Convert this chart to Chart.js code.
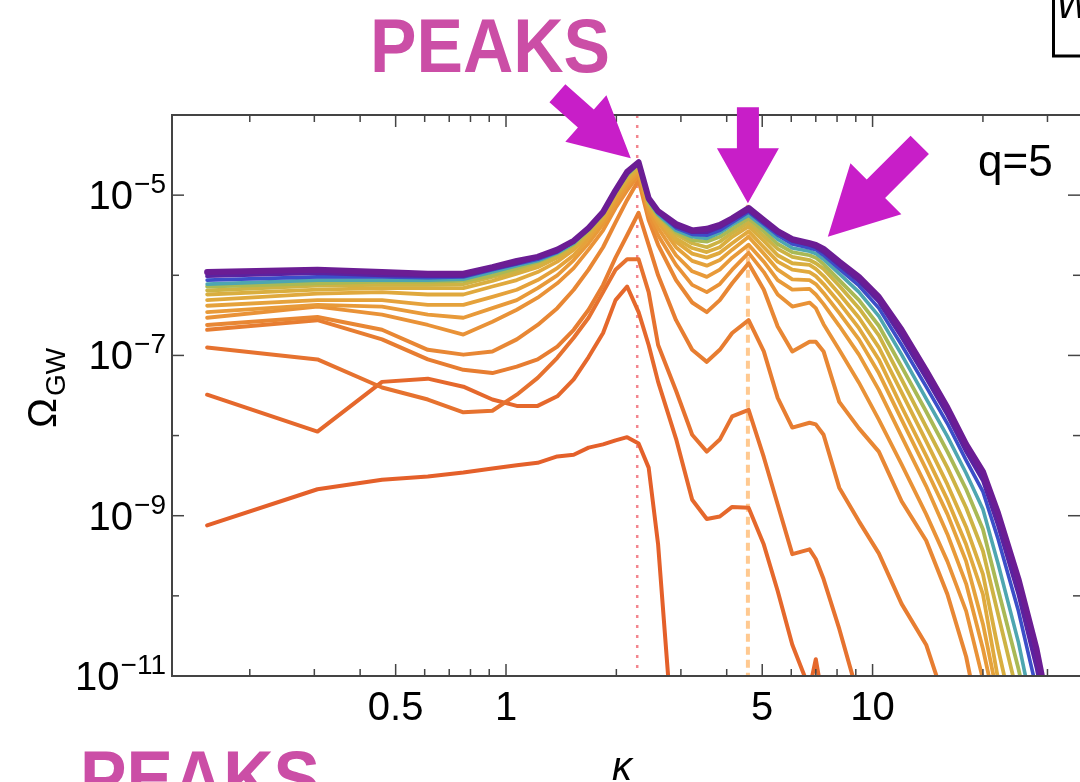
<!DOCTYPE html>
<html>
<head>
<meta charset="utf-8">
<script src="https://cdn.jsdelivr.net/npm/chart.js@4.4.1/dist/chart.umd.min.js"></script>
<style>
  html, body { margin: 0; padding: 0; background: #fff; overflow: hidden; }
  #chart { display: block; }
</style>
</head>
<body>
<canvas id="chart" width="1080" height="782"></canvas>
<script>
// kappa grid shared by every spectrum
const kappa = [0.153, 0.306, 0.459, 0.612, 0.765, 0.918, 1.07, 1.22, 1.38, 1.53,
  1.68, 1.84, 1.99, 2.14, 2.30, 2.45, 2.60, 2.91, 3.22, 3.53,
  3.83, 4.14, 4.59, 5.05, 5.51, 6.04, 6.73, 7.00, 7.35, 8.11,
  9.18, 10.4, 12.0, 14.0, 16.0, 18.0, 20.0, 22.0, 25.0, 28.0, 30.0];

// log10(Omega_GW) for each snapshot, earliest first
const specA = [-9.12,-8.67,-8.55,-8.51,-8.46,-8.41,-8.37,-8.34,-8.26,-8.24,
  -8.15,-8.11,-8.06,-8.02,-8.10,-8.40,-9.36,-12.3];
const specB = [-7.49,-7.95,-7.33,-7.29,-7.39,-7.55,-7.63,-7.63,-7.51,-7.30,
  -7.02,-6.72,-6.31,-6.14,-6.46,-6.87,-7.33,-8.04,-8.80,-9.04,
  -9.01,-8.89,-8.90,-9.36,-9.94,-10.61,-11.16,-10.79,-11.35,-12.5];
const specC = [-6.90,-7.05,-7.40,-7.55,-7.71,-7.69,-7.49,-7.28,-7.03,-6.78,
  -6.53,-6.21,-5.93,-5.80,-5.80,-6.21,-6.87,-7.44,-7.99,-8.20,
  -8.05,-7.76,-7.68,-8.27,-8.86,-9.48,-9.42,-9.54,-9.79,-10.41,
  -11.28,-12.5];
const specD = [-6.68,-6.56,-6.80,-7.05,-7.18,-7.22,-7.14,-7.05,-6.89,-6.68,
  -6.43,-6.12,-5.78,-5.50,-5.22,-5.62,-6.00,-6.56,-6.93,-7.08,
  -6.93,-6.72,-6.56,-6.95,-7.53,-7.90,-7.84,-7.86,-7.99,-8.65,
  -9.07,-9.47,-10.10,-10.61,-11.41];
const specE = [-6.62,-6.52,-6.68,-6.93,-6.99,-6.95,-6.80,-6.62,-6.41,-6.18,
  -5.93,-5.65,-5.34,-5.06,-4.81,-5.31,-5.62,-6.06,-6.34,-6.46,
  -6.31,-6.10,-5.85,-6.18,-6.64,-6.95,-6.83,-6.83,-6.95,-7.58,
  -7.91,-8.20,-8.82,-9.31,-9.98,-10.76,-11.78];
const specF = [-6.53,-6.39,-6.49,-6.62,-6.74,-6.58,-6.43,-6.28,-6.10,-5.91,
  -5.68,-5.44,-5.16,-4.94,-4.75,-5.24,-5.50,-5.87,-6.12,-6.21,
  -6.11,-5.93,-5.72,-5.96,-6.24,-6.39,-6.34,-6.41,-6.61,-6.93,
  -7.34,-7.80,-8.36,-8.98,-9.57,-10.19,-11.04,-11.85];
const specG = [-6.46,-6.37,-6.39,-6.49,-6.53,-6.41,-6.31,-6.16,-6.00,-5.81,
  -5.60,-5.36,-5.10,-4.88,-4.71,-5.19,-5.41,-5.75,-5.95,-6.02,
  -5.93,-5.78,-5.62,-5.83,-6.06,-6.18,-6.17,-6.24,-6.36,-6.63,
  -6.99,-7.43,-8.01,-8.63,-9.23,-9.85,-10.66,-11.53];
const specH = [-6.38,-6.31,-6.31,-6.37,-6.37,-6.27,-6.18,-6.06,-5.91,-5.75,
  -5.54,-5.31,-5.04,-4.83,-4.69,-5.15,-5.34,-5.65,-5.82,-5.88,
  -5.81,-5.68,-5.52,-5.73,-5.93,-6.05,-6.06,-6.11,-6.22,-6.47,
  -6.80,-7.22,-7.80,-8.42,-8.98,-9.57,-10.35,-11.28];
const specI = [-6.31,-6.23,-6.21,-6.24,-6.24,-6.14,-6.06,-5.96,-5.83,-5.68,
  -5.49,-5.27,-5.01,-4.80,-4.66,-5.12,-5.30,-5.58,-5.73,-5.78,
  -5.72,-5.60,-5.45,-5.65,-5.83,-5.93,-5.96,-6.01,-6.11,-6.34,
  -6.66,-7.05,-7.64,-8.25,-8.80,-9.36,-9.98,-11.04,-12.03];
const specJ = [-6.24,-6.18,-6.16,-6.16,-6.16,-6.07,-5.98,-5.90,-5.78,-5.65,
  -5.46,-5.25,-4.99,-4.78,-4.64,-5.11,-5.27,-5.54,-5.66,-5.71,
  -5.65,-5.52,-5.39,-5.57,-5.75,-5.85,-5.87,-5.92,-6.01,-6.23,
  -6.53,-6.90,-7.46,-8.07,-8.61,-9.14,-9.73,-10.66,-11.78];
const specK = [-6.19,-6.13,-6.12,-6.12,-6.11,-6.02,-5.95,-5.86,-5.76,-5.62,
  -5.45,-5.24,-4.98,-4.76,-4.63,-5.10,-5.26,-5.49,-5.60,-5.65,
  -5.58,-5.47,-5.34,-5.51,-5.67,-5.77,-5.81,-5.85,-5.92,-6.13,
  -6.41,-6.75,-7.30,-7.89,-8.40,-8.90,-9.44,-10.23,-11.28];
const specL = [-6.14,-6.10,-6.08,-6.08,-6.07,-6.00,-5.91,-5.83,-5.73,-5.61,
  -5.44,-5.24,-4.96,-4.75,-4.61,-5.09,-5.25,-5.46,-5.56,-5.58,
  -5.52,-5.42,-5.29,-5.45,-5.61,-5.71,-5.75,-5.78,-5.86,-6.06,
  -6.31,-6.63,-7.14,-7.70,-8.20,-8.67,-9.17,-9.92,-10.91,-11.91];
const specM = [-6.11,-6.06,-6.06,-6.06,-6.05,-5.96,-5.88,-5.82,-5.72,-5.60,
  -5.42,-5.22,-4.95,-4.74,-4.60,-5.07,-5.24,-5.44,-5.52,-5.54,
  -5.47,-5.37,-5.25,-5.40,-5.55,-5.66,-5.70,-5.73,-5.80,-5.98,
  -6.21,-6.51,-6.99,-7.54,-8.01,-8.47,-8.92,-9.60,-10.58,-11.66];
const specN = [-6.06,-6.02,-6.02,-6.03,-6.02,-5.93,-5.86,-5.80,-5.71,-5.58,
  -5.42,-5.22,-4.95,-4.73,-4.60,-5.06,-5.22,-5.41,-5.49,-5.50,
  -5.44,-5.34,-5.21,-5.36,-5.50,-5.61,-5.66,-5.68,-5.75,-5.92,
  -6.13,-6.41,-6.87,-7.39,-7.85,-8.31,-8.70,-9.29,-10.19,-11.16];
const specO = [-6.01,-5.97,-6.00,-6.01,-6.01,-5.92,-5.85,-5.78,-5.70,-5.58,
  -5.42,-5.21,-4.94,-4.73,-4.59,-5.05,-5.21,-5.39,-5.46,-5.46,
  -5.40,-5.31,-5.19,-5.34,-5.47,-5.57,-5.62,-5.65,-5.71,-5.87,
  -6.07,-6.33,-6.77,-7.28,-7.74,-8.20,-8.56,-9.12,-9.98,-10.89,-11.56];
const specP = [-5.96,-5.93,-5.96,-5.98,-5.98,-5.90,-5.82,-5.77,-5.68,-5.57,
  -5.41,-5.21,-4.94,-4.71,-4.59,-5.04,-5.20,-5.36,-5.44,-5.42,
  -5.37,-5.29,-5.16,-5.31,-5.45,-5.55,-5.60,-5.62,-5.67,-5.83,
  -6.02,-6.27,-6.68,-7.19,-7.65,-8.11,-8.45,-8.97,-9.79,-10.66,-11.35];

const spectra = [specA, specB, specC, specD, specE, specF, specG, specH,
  specI, specJ, specK, specL, specM, specN, specO, specP];
const spectraColors = ['#e4602a', '#e5682c', '#e6722f', '#e77d31', '#e88734', '#e99237',
  '#e89a39', '#e5a23b', '#e0a93d', '#d9ae3f', '#cdb344', '#a9b955',
  '#4ea6b0', '#3c4ec8', '#5b22a0', '#6b1d94'];
const spectraWidths = [4, 4, 4, 4, 4, 3.8, 3.8, 3.8, 3.8, 3.8, 3.8, 3.8, 3.6, 3.6, 4, 6];

// vertical guide lines at the first two peaks
const guideKappa = [2.28, 4.57];
const guideTopLog = [-4.0, -5.12];

// axis ticks
const xMajorTicks = [0.5, 1, 5, 10];
const xMinorTicks = [0.2, 0.3, 0.4, 0.6, 0.7, 0.8, 0.9, 2, 3, 4, 6, 7, 8, 9, 20, 30];
const yMajorExp = [-5, -7, -9, -11];
const yMinorExp = [-4, -6, -8, -10];

// arrows pointing at the peaks: tip position (data) and direction of travel
const arrowKappa = [2.19, 4.57, 7.55];
const arrowTipLog = [-4.54, -5.10, -5.52];
const arrowAngle = [41.5, 90, 135];

function drawArrow(ctx, tx, ty, deg, len, head, headHalf, shaftHalf) {
  const dx = Math.cos(deg * Math.PI / 180), dy = Math.sin(deg * Math.PI / 180);
  const nx = -dy, ny = dx;
  const bx = tx - dx * head, by = ty - dy * head;
  const sx = tx - dx * len, sy = ty - dy * len;
  ctx.beginPath();
  ctx.moveTo(tx, ty);
  ctx.lineTo(bx + nx * headHalf, by + ny * headHalf);
  ctx.lineTo(bx + nx * shaftHalf, by + ny * shaftHalf);
  ctx.lineTo(sx + nx * shaftHalf, sy + ny * shaftHalf);
  ctx.lineTo(sx - nx * shaftHalf, sy - ny * shaftHalf);
  ctx.lineTo(bx - nx * shaftHalf, by - ny * shaftHalf);
  ctx.lineTo(bx - nx * headHalf, by - ny * headHalf);
  ctx.closePath();
  ctx.fill();
}

function drawPeaks(ctx, left, baseline) {
  ctx.save();
  ctx.font = 'bold 76px "Liberation Sans", Arial, sans-serif';
  ctx.fillStyle = '#cb4ea6';
  const w = ctx.measureText('PEAKS').width;
  ctx.translate(left, baseline);
  ctx.scale(240 / w, 1);
  ctx.fillText('PEAKS', 0, 0);
  ctx.restore();
}

const decorations = {
  id: 'decorations',
  afterDraw(chart) {
    const ctx = chart.ctx;
    const a = chart.chartArea;
    const x = chart.scales.x, y = chart.scales.y;
    ctx.save();

    // frame
    ctx.strokeStyle = '#444';
    ctx.lineWidth = 2;
    ctx.strokeRect(a.left, a.top, a.right - a.left + 1, a.bottom - a.top);

    // inward ticks on all four sides
    ctx.lineWidth = 1.5;
    const seg = (x1, y1, x2, y2) => { ctx.beginPath(); ctx.moveTo(x1, y1); ctx.lineTo(x2, y2); ctx.stroke(); };
    xMajorTicks.concat(xMinorTicks).forEach(v => {
      const p = x.getPixelForValue(v);
      const len = xMajorTicks.includes(v) ? 12 : 7;
      seg(p, a.bottom, p, a.bottom - len);
      seg(p, a.top, p, a.top + len);
    });
    yMajorExp.concat(yMinorExp).forEach(e => {
      const p = y.getPixelForValue(Math.pow(10, e));
      const len = yMajorExp.includes(e) ? 12 : 7;
      seg(a.left, p, a.left + len, p);
      seg(a.right, p, a.right - len, p);
    });

    // tick labels
    ctx.fillStyle = '#000';
    ctx.textBaseline = 'alphabetic';
    ctx.font = '40px "Liberation Sans", Arial, sans-serif';
    ctx.textAlign = 'center';
    xMajorTicks.forEach(v => {
      ctx.fillText(String(v), x.getPixelForValue(v), 720);
    });
    ctx.textAlign = 'right';
    yMajorExp.forEach(e => {
      const p = y.getPixelForValue(Math.pow(10, e));
      const sup = '\u2212' + Math.abs(e);
      ctx.font = '28px "Liberation Sans", Arial, sans-serif';
      const sw = ctx.measureText(sup).width;
      ctx.fillText(sup, 166, p - 2);
      ctx.font = '40px "Liberation Sans", Arial, sans-serif';
      ctx.fillText('10', 166 - sw - 1, p + 14);
    });

    // axis titles
    ctx.textAlign = 'center';
    ctx.font = 'italic 40px "Liberation Sans", Arial, sans-serif';
    ctx.fillText('\u03ba', 622, 780);
    ctx.save();
    ctx.translate(56, 428);
    ctx.rotate(-Math.PI / 2);
    ctx.textAlign = 'left';
    ctx.font = '40px "Liberation Sans", Arial, sans-serif';
    ctx.fillText('\u03a9', 0, 0);
    const ow = ctx.measureText('\u03a9').width;
    ctx.font = '28px "Liberation Sans", Arial, sans-serif';
    ctx.fillText('GW', ow + 2, 9);
    ctx.restore();

    // q=5
    ctx.textAlign = 'left';
    ctx.font = '44px "Liberation Sans", Arial, sans-serif';
    ctx.fillText('q=5', 978, 176);

    // partial box in the corner
    ctx.save();
    ctx.strokeStyle = '#000';
    ctx.lineWidth = 3;
    ctx.strokeRect(1053.5, -10, 60, 66);
    ctx.beginPath();
    ctx.rect(1055, 0, 30, 54);
    ctx.clip();
    ctx.font = 'italic 38px "Liberation Sans", Arial, sans-serif';
    ctx.fillText('W', 1056, 18);
    ctx.restore();

    // arrows
    ctx.fillStyle = '#c81ec8';
    const arrowLen = [98, 96, 130], arrowHead = [60, 55, 68], arrowHeadHalf = [31, 31, 36], arrowShaft = [12, 11, 13];
    arrowKappa.forEach((k, i) => {
      drawArrow(ctx, x.getPixelForValue(k), y.getPixelForValue(Math.pow(10, arrowTipLog[i])),
        arrowAngle[i], arrowLen[i], arrowHead[i], arrowHeadHalf[i], arrowShaft[i]);
    });

    // PEAKS labels
    drawPeaks(ctx, 370, 72);
    drawPeaks(ctx, 80, 804);

    ctx.restore();
  }
};

const datasets = spectra.map((s, i) => ({
  label: 'snapshot ' + (i + 1),
  data: s.map((v, j) => ({ x: kappa[j], y: Math.pow(10, v) })),
  borderColor: spectraColors[i],
  borderWidth: spectraWidths[i],
  pointRadius: 0,
  tension: 0,
  borderJoinStyle: 'round',
  borderCapStyle: 'round',
  order: spectra.length - i
}));

datasets.push({
  label: 'first peak',
  data: [{ x: guideKappa[0], y: Math.pow(10, guideTopLog[0]) }, { x: guideKappa[0], y: 1e-11 }],
  borderColor: '#f3868e',
  borderWidth: 2.5,
  borderDash: [3, 7],
  pointRadius: 0,
  order: 50
});
datasets.push({
  label: 'second peak',
  data: [{ x: guideKappa[1], y: Math.pow(10, guideTopLog[1]) }, { x: guideKappa[1], y: 1e-11 }],
  borderColor: '#ffc990',
  borderWidth: 4,
  borderDash: [8, 5],
  pointRadius: 0,
  order: 51
});

const ctx = document.getElementById('chart').getContext('2d');
const myChart = new Chart(ctx, {
  type: 'line',
  data: { datasets: datasets },
  options: {
    responsive: false,
    animation: false,
    layout: { padding: { left: 172, top: 115, right: 0, bottom: 106 } },
    scales: {
      x: { type: 'logarithmic', min: 0.1227, max: 36.8, display: false },
      y: { type: 'logarithmic', min: 1e-11, max: 1e-4, display: false }
    },
    plugins: {
      legend: { display: false },
      tooltip: { enabled: false }
    }
  },
  plugins: [decorations]
});
</script>
</body>
</html>
